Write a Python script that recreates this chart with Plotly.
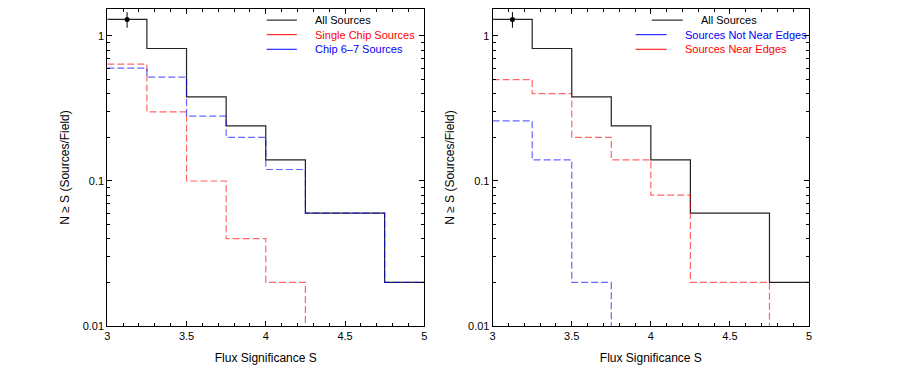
import plotly.graph_objects as go

# ---- data ----
bin_edges = [3.0, 3.25, 3.5, 3.75, 4.0, 4.25, 4.5, 4.75, 5.0]
all_sources = [1.3, 0.82, 0.38, 0.24, 0.14, 0.06, 0.06, 0.02]
single_chip = [0.64, 0.30, 0.10, 0.04, 0.02, 0, 0, 0]
chip_67 = [0.60, 0.52, 0.28, 0.20, 0.12, 0.06, 0.06, 0.02]
not_near_edges = [0.26, 0.14, 0.02, 0, 0, 0, 0, 0]
near_edges = [0.50, 0.40, 0.20, 0.14, 0.08, 0.02, 0.02, 0]
err_x = [3.125]
err_y = [1.3]
err_val = [0.16]
x_ticks = [3, 3.5, 4, 4.5, 5]
x_ticklabels = ["3", "3.5", "4", "4.5", "5"]
y_ticks = [0.01, 0.1, 1]
y_ticklabels = ["0.01", "0.1", "1"]

FLOOR = 1e-4  # empty bins drawn below the axis floor


def steps(vals):
    ys = [v if v > 0 else FLOOR for v in vals]
    return bin_edges, ys + [ys[-1]]


RED = "rgba(255,0,0,0.6)"
BLUE = "rgba(0,0,255,0.6)"
DASH = "7px,3px"

fig = go.Figure()


def add_panel(xa, ya, series):
    for vals, color, dash in series:
        xs, ys = steps(vals)
        fig.add_trace(go.Scatter(x=xs, y=ys, mode="lines", line_shape="hv",
                                 line=dict(color=color, width=1.2, dash=dash),
                                 xaxis=xa, yaxis=ya, showlegend=False,
                                 hoverinfo="skip"))
    fig.add_trace(go.Scatter(x=err_x, y=err_y, mode="markers",
                             marker=dict(color="black", size=5),
                             error_y=dict(type="data", array=err_val, color="black",
                                          thickness=1, width=0),
                             xaxis=xa, yaxis=ya, showlegend=False))


add_panel("x", "y", [(all_sources, "#222222", "solid"),
                     (single_chip, RED, DASH), (chip_67, BLUE, DASH)])
add_panel("x2", "y2", [(all_sources, "#222222", "solid"),
                       (near_edges, RED, DASH), (not_near_edges, BLUE, DASH)])

FONT = "Liberation Sans, Arial, sans-serif"
xaxis_common = dict(range=[3, 5], tickvals=x_ticks, ticktext=x_ticklabels,
                    ticks="inside", ticklen=5, tickcolor="black", mirror="ticks",
                    showline=True, linecolor="black", linewidth=1, showgrid=False,
                    zeroline=False, tickfont=dict(size=11, color="black"),
                    automargin=False,
                    minor=dict(ticks="inside", ticklen=3, dtick=0.1, tickcolor="black"),
                    title=dict(text="Flux Significance S", font=dict(size=12, color="black"),
                               standoff=12))
yaxis_common = dict(type="log", range=[-2, 0.186], tickvals=y_ticks,
                    ticks="inside", ticklen=5, tickcolor="black", mirror="ticks",
                    showline=True, linecolor="black", linewidth=1, showgrid=False,
                    zeroline=False, tickfont=dict(size=11, color="black"),
                    automargin=False,
                    minor=dict(ticks="inside", ticklen=3, dtick="D1", tickcolor="black"),
                    domain=[0.1213, 0.9757])

fig.update_layout(
    template="none",
    width=900, height=371,
    margin=dict(l=0, r=0, t=0, b=0),
    paper_bgcolor="white", plot_bgcolor="white",
    font=dict(family=FONT, color="black"),
    xaxis=dict(xaxis_common, domain=[0.1192, 0.4714], anchor="y"),
    yaxis=dict(yaxis_common, ticktext=y_ticklabels, anchor="x",
               title=dict(text="N ≥ S (Sources/Field)", font=dict(size=12, color="black"),
                          standoff=10)),
    xaxis2=dict(xaxis_common, domain=[0.5474, 0.8989], anchor="y2"),
    yaxis2=dict(yaxis_common, ticktext=y_ticklabels, anchor="x2",
                title=dict(text="N ≥ S (Sources/Field)", font=dict(size=12, color="black"),
                           standoff=10)),
    showlegend=False,
)

# ---- legends (drawn with shapes + annotations) ----
ROWS_Y = [0.965, 0.919, 0.873]


def legend(xd, yd, items):
    for (label, color, x0, x1, xt), yy in zip(items, ROWS_Y):
        fig.add_shape(type="line", xref=f"{xd} domain", yref=f"{yd} domain",
                      x0=x0, x1=x1, y0=yy, y1=yy, line=dict(color=color, width=1))
        fig.add_annotation(xref=f"{xd} domain", yref=f"{yd} domain",
                           x=xt, y=yy, text=label, showarrow=False, xanchor="left",
                           yanchor="middle", font=dict(size=11, color=color, family=FONT))


legend("x", "y", [("All Sources", "black", 0.503, 0.598, 0.650),
                  ("Single Chip Sources", "red", 0.503, 0.598, 0.650),
                  ("Chip 6–7 Sources", "blue", 0.503, 0.598, 0.650)])
legend("x2", "y2", [("All Sources", "black", 0.503, 0.601, 0.653),
                    ("Sources Not Near Edges", "blue", 0.452, 0.550, 0.603),
                    ("Sources Near Edges", "red", 0.452, 0.550, 0.603)])

fig.write_html("out.html", config={"displayModeBar": False},
               post_script="document.body.style.margin='0';")
